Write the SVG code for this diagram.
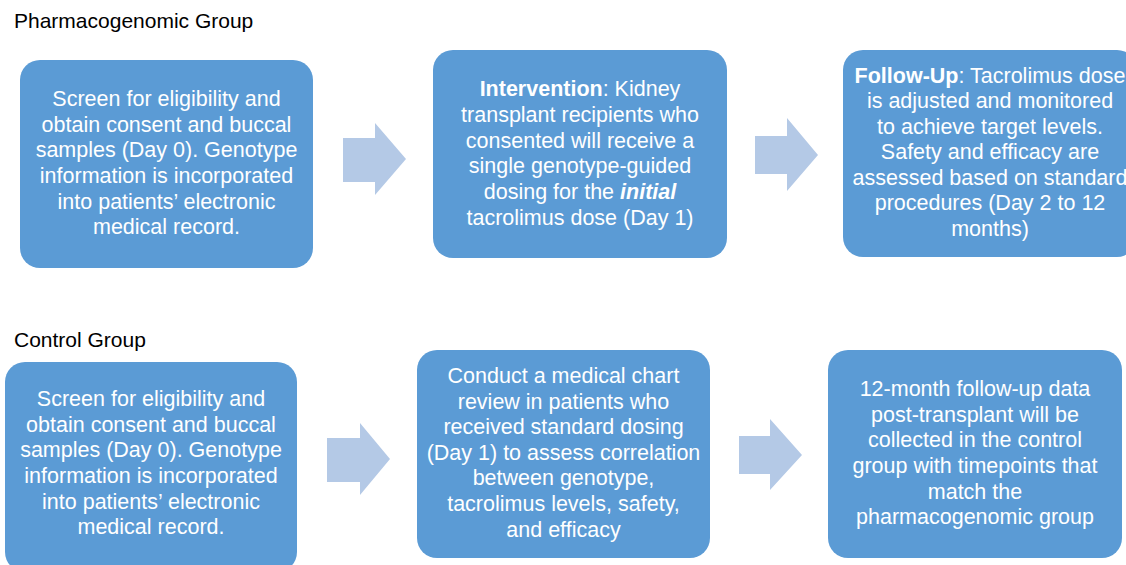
<svg xmlns="http://www.w3.org/2000/svg" width="1126" height="565" viewBox="0 0 1126 565">
<style>
.box{fill:#5B9BD5;}
.arr{fill:#B4C9E6;}
.t{font-family:"Liberation Sans",Arial,sans-serif;font-size:21.5px;fill:#FFFFFF;text-anchor:middle;}
.h{font-family:"Liberation Sans",Arial,sans-serif;font-size:21px;fill:#000000;}
.b{font-weight:bold;}
.bi{font-weight:bold;font-style:italic;}
</style>
<rect width="1126" height="565" fill="#FFFFFF"/>
<text class="h" x="14" y="28">Pharmacogenomic Group</text>
<text class="h" x="14" y="347">Control Group</text>

<g id="connectors">
<polygon class="arr" points="343,138 375,138 375,123 406,159 375,195 375,182 343,182"/>
<polygon class="arr" points="755,136 787,136 787,118 818,155 787,191 787,174 755,174"/>
<polygon class="arr" points="327,438 360,438 360,423 390,459 360,495 360,482 327,482"/>
<polygon class="arr" points="739,436 770,436 770,419 802,455 770,490 770,474 739,474"/>
</g>

<g id="pg-screen">
<rect class="box" x="20" y="60" width="293" height="208" rx="20"/>
<text class="t" x="166.5" y="106">Screen for eligibility and</text>
<text class="t" x="166.5" y="131.5">obtain consent and buccal</text>
<text class="t" x="166.5" y="157">samples (Day 0). Genotype</text>
<text class="t" x="166.5" y="183">information is incorporated</text>
<text class="t" x="166.5" y="208.5">into patients’ electronic</text>
<text class="t" x="166.5" y="234">medical record.</text>
</g>

<g id="pg-intervention">
<rect class="box" x="433" y="50" width="294" height="208" rx="20"/>
<text class="t" x="580" y="96"><tspan class="b">Intervention</tspan>: Kidney</text>
<text class="t" x="580" y="122">transplant recipients who</text>
<text class="t" x="580" y="147.5">consented will receive a</text>
<text class="t" x="580" y="173">single genotype-guided</text>
<text class="t" x="580" y="199">dosing for the <tspan class="bi">initial</tspan></text>
<text class="t" x="580" y="224.5">tacrolimus dose (Day 1)</text>
</g>

<g id="pg-followup">
<rect class="box" x="843" y="50" width="294" height="207" rx="20"/>
<text class="t" x="990" y="82.5"><tspan class="b">Follow-Up</tspan>: Tacrolimus dose</text>
<text class="t" x="990" y="108">is adjusted and monitored</text>
<text class="t" x="990" y="133.5">to achieve target levels.</text>
<text class="t" x="990" y="159">Safety and efficacy are</text>
<text class="t" x="990" y="184.5">assessed based on standard</text>
<text class="t" x="990" y="210">procedures (Day 2 to 12</text>
<text class="t" x="990" y="235.5">months)</text>
</g>

<g id="cg-screen">
<rect class="box" x="5" y="362" width="292" height="210" rx="20"/>
<text class="t" x="151" y="406">Screen for eligibility and</text>
<text class="t" x="151" y="431.5">obtain consent and buccal</text>
<text class="t" x="151" y="457">samples (Day 0). Genotype</text>
<text class="t" x="151" y="483">information is incorporated</text>
<text class="t" x="151" y="508.5">into patients’ electronic</text>
<text class="t" x="151" y="534">medical record.</text>
</g>

<g id="cg-review">
<rect class="box" x="417" y="350" width="293" height="208" rx="20"/>
<text class="t" x="563.5" y="383">Conduct a medical chart</text>
<text class="t" x="563.5" y="408.5">review in patients who</text>
<text class="t" x="563.5" y="434">received standard dosing</text>
<text class="t" x="563.5" y="459.5">(Day 1) to assess  correlation</text>
<text class="t" x="563.5" y="485">between genotype,</text>
<text class="t" x="563.5" y="511">tacrolimus levels, safety,</text>
<text class="t" x="563.5" y="537">and efficacy</text>
</g>

<g id="cg-followup">
<rect class="box" x="828" y="350" width="294" height="208" rx="20"/>
<text class="t" x="975" y="396">12-month follow-up data</text>
<text class="t" x="975" y="421.5">post-transplant will be</text>
<text class="t" x="975" y="447">collected in the control</text>
<text class="t" x="975" y="473">group with timepoints that</text>
<text class="t" x="975" y="498.5">match the</text>
<text class="t" x="975" y="524">pharmacogenomic group</text>
</g>
</svg>
